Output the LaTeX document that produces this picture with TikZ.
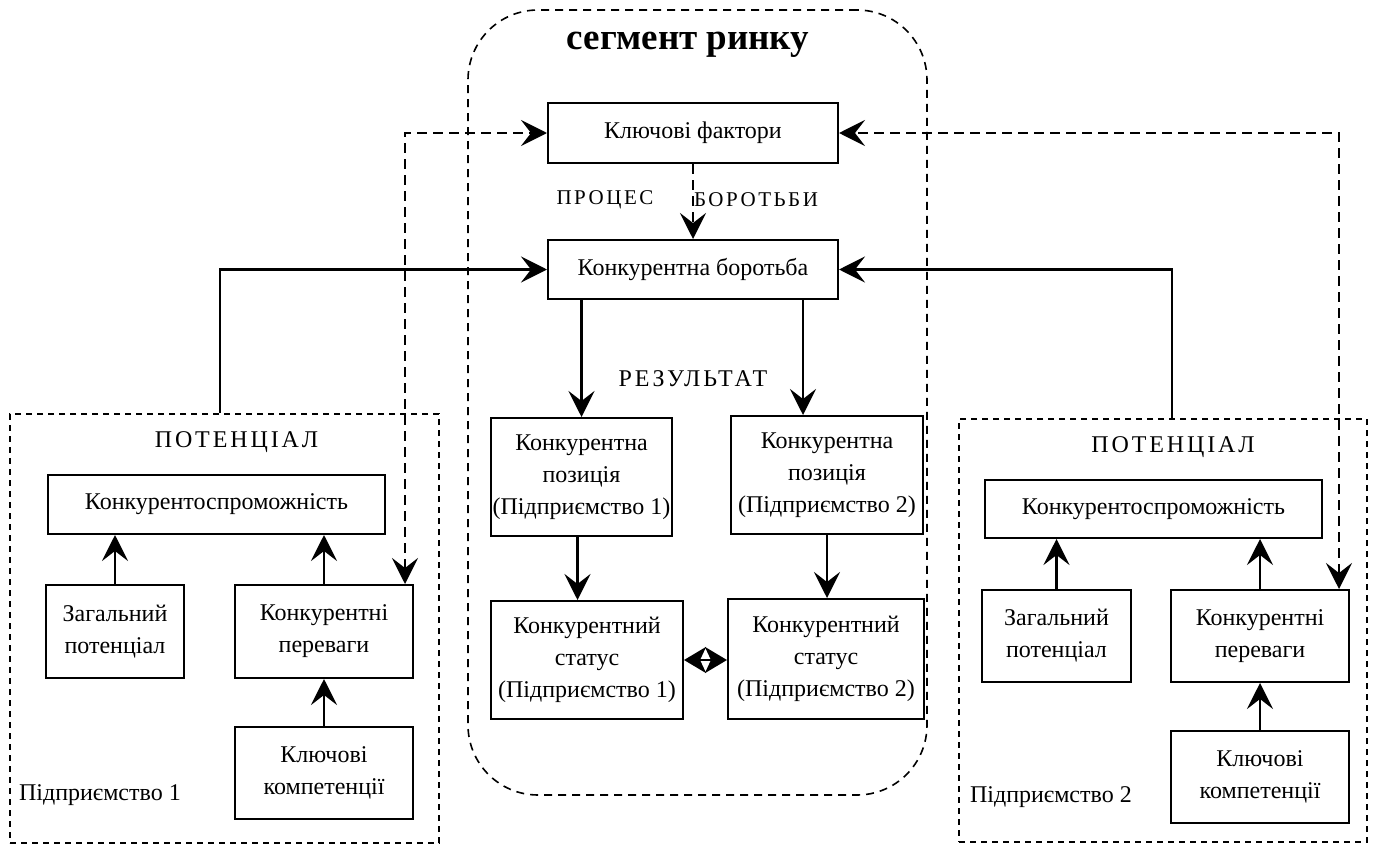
\documentclass[tikz,border=0pt]{standalone}
\usepackage{fontspec}
\setmainfont{Liberation Serif}
\newfontfamily\spacedfont[LetterSpace=12]{Liberation Serif}
\newfontfamily\widefont[LetterSpace=12]{Liberation Serif}
\usetikzlibrary{arrows.meta, positioning}
\tikzstyle{block} = [rectangle, draw=black, line width=1pt, align=center, inner sep=1pt, font=\fontsize{12}{16}\selectfont]
\tikzstyle{frame} = [rectangle, draw=black, line width=0.75pt, dash pattern=on 3pt off 2.5pt]
\tikzstyle{segment} = [rectangle, rounded corners=35pt, draw=black, line width=0.8pt, dash pattern=on 4pt off 3pt]
\tikzstyle{captext} = [font=\spacedfont\fontsize{12}{14}\selectfont]
\tikzstyle{plaintext} = [font=\fontsize{12}{14}\selectfont]
\tikzstyle{arrow} = [line width=1.4pt, -{Stealth[length=13pt,width=13pt,inset=5pt]}]
\tikzstyle{darrow} = [line width=1.3pt, dash pattern=on 5pt off 3pt, -{Stealth[length=13pt,width=13pt,inset=5pt]}]
\tikzstyle{ddarrow} = [line width=1.3pt, dash pattern=on 5pt off 3pt, {Stealth[length=13pt,width=13pt,inset=5pt]}-{Stealth[length=13pt,width=13pt,inset=5pt]}]
\tikzstyle{biarrow} = [line width=1.4pt, {Stealth[length=11pt,width=13pt,inset=3pt]}-{Stealth[length=11pt,width=13pt,inset=3pt]}]

\begin{document}
\begin{tikzpicture}[x=0.5pt, y=-0.5pt]
\useasboundingbox (0,0) rectangle (1373,846);

% market segment
\node (seg) [segment, minimum width=229.5pt, minimum height=392.5pt] at (697.5,402.5) {};
\node (title) [font=\bfseries\fontsize{18.5}{20}\selectfont] at (688,45) {сегмент ринку};
\node (kf) [block, minimum width=145pt, minimum height=30pt] at (693,133) {Ключові фактори};
\node (kb) [block, minimum width=145pt, minimum height=29.5pt, below of=kf, node distance=68.25pt] {Конкурентна боротьба};
\node (proc) [font=\widefont\fontsize{10.5}{12}\selectfont] at (605,200) {ПРОЦЕС};
\node (strug) [font=\widefont\fontsize{10.5}{12}\selectfont] at (756,200) {БОРОТЬБИ};
\node (res) [captext] at (693,379) {РЕЗУЛЬТАТ};
\node (pos1) [block, minimum width=90.5pt, minimum height=59pt] at (581.5,477) {Конкурентна\\позиція\\(Підприємство 1)};
\node (pos2) [block, minimum width=96pt, minimum height=59pt] at (827,475) {Конкурентна\\позиція\\(Підприємство 2)};
\node (st1) [block, minimum width=96pt, minimum height=59pt] at (587,660) {Конкурентний\\статус\\(Підприємство 1)};
\node (st2) [block, minimum width=98pt, minimum height=60pt] at (826,659) {Конкурентний\\статус\\(Підприємство 2)};

% enterprise 1
\node (pf1) [frame, minimum width=214.5pt, minimum height=214.5pt] at (224.5,628.5) {};
\node (pot1) [captext] at ([xshift=6pt, yshift=-14.5pt]pf1.north) {ПОТЕНЦІАЛ};
\node (ks1) [block, minimum width=168.5pt, minimum height=29.5pt] at (216.5,504.5) {Конкурентоспроможність};
\node (zp1) [block, minimum width=69pt, minimum height=46.5pt] at (115,631.5) {Загальний\\потенціал};
\node (kp1) [block, minimum width=89pt, minimum height=46.5pt] at (324,631.5) {Конкурентні\\переваги};
\node (kk1) [block, minimum width=89pt, minimum height=46pt, below of=kp1, node distance=70.75pt] {Ключові\\компетенції};
\node (ent1) [plaintext, anchor=west] at (12,795) {Підприємство 1};

% enterprise 2
\node (pf2) [frame, minimum width=204pt, minimum height=211.5pt] at (1163,630.5) {};
\node (pot2) [captext] at ([xshift=5pt, yshift=-14.5pt]pf2.north) {ПОТЕНЦІАЛ};
\node (ks2) [block, minimum width=168.5pt, minimum height=29pt] at (1153.5,509) {Конкурентоспроможність};
\node (zp2) [block, minimum width=74.5pt, minimum height=46pt] at (1056.5,636) {Загальний\\потенціал};
\node (kp2) [block, minimum width=89pt, minimum height=46pt] at (1260,636) {Конкурентні\\переваги};
\node (kk2) [block, minimum width=89pt, minimum height=46pt, below of=kp2, node distance=70.5pt] {Ключові\\компетенції};
\node (ent2) [plaintext, anchor=west] at (963,797) {Підприємство 2};

% arrows
\draw [darrow] (kf) -- (kb);
\draw [arrow] (kb.south -| pos1.north) -- (pos1);
\draw [arrow] ([xshift=-18pt]kb.south east) -- ([xshift=-18pt]kb.south east |- pos2.north);
\draw [arrow] ([xshift=-2pt]pos1.south) -- ([xshift=-2pt]pos1.south |- st1.north);
\draw [arrow] (pos2) -- (pos2 |- st2.north);
\draw [biarrow] (st1.east) -- (st1.east -| st2.west);

\draw [arrow] (zp1) -- (zp1 |- ks1.south);
\draw [arrow] (kp1) -- (kp1 |- ks1.south);
\draw [arrow] (kk1) -- (kp1);
\draw [arrow] (zp2) -- (zp2 |- ks2.south);
\draw [arrow] (kp2) -- (kp2 |- ks2.south);
\draw [arrow] (kk2) -- (kp2);

\draw [arrow] ([xshift=-2.25pt]pf1.north) |- (kb);
\draw [arrow] ([xshift=4.5pt]pf2.north) |- (kb);
\draw [ddarrow] ([xshift=-4.5pt]kp1.north east) |- (kf);
\draw [ddarrow] ([xshift=-5.5pt]kp2.north east) |- (kf);
\end{tikzpicture}
\end{document}
